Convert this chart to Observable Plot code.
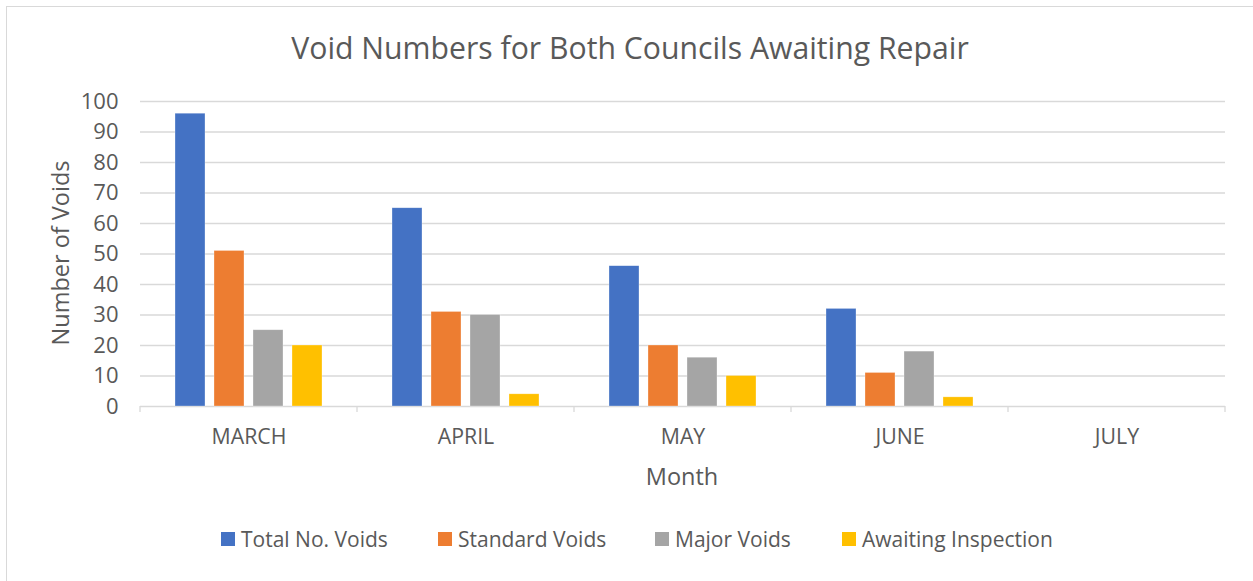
<!DOCTYPE html>
<html>
<head>
<meta charset="utf-8">
<script src="https://cdn.jsdelivr.net/npm/d3@7"></script>
<script src="https://cdn.jsdelivr.net/npm/@observablehq/plot@0.6"></script>
<style>
  html, body { margin: 0; padding: 0; background: #fff; }
  body { width: 1253px; height: 581px; position: relative; overflow: hidden; font-family: "Open Sans", Lato, sans-serif; color: #595959; }
  #frame { position: absolute; left: 6px; top: 6px; width: 1400px; height: 700px; border-left: 1.5px solid #d9d9d9; border-top: 1.5px solid #d9d9d9; }
  #title { position: absolute; left: 0; width: 1260px; top: 30px; text-align: center; font-size: 30.2px; line-height: 36px; }
  #ytitle { position: absolute; left: 60px; top: 253px; transform: translate(-50%, -50%) rotate(-90deg); font-size: 23.5px; line-height: 28px; white-space: nowrap; }
  #xtitle { position: absolute; left: 0; width: 1364px; top: 462px; text-align: center; font-size: 23.5px; line-height: 28px; }
  #chart { position: absolute; left: 0; top: 80px; }
  #legend { position: absolute; top: 525px; left: 0; width: 1253px; height: 28px; }
  .item { position: absolute; top: 0; display: flex; align-items: center; font-size: 21px; line-height: 28px; white-space: nowrap; }
  .sw { width: 14px; height: 14px; margin-right: 6px; }
</style>
</head>
<body>
<div id="frame"></div>
<div id="title">Void Numbers for Both Councils Awaiting Repair</div>
<div id="ytitle">Number of Voids</div>
<div id="xtitle">Month</div>
<div id="chart"></div>
<div id="legend"></div>
<script>
const months = ["MARCH", "APRIL", "MAY", "JUNE", "JULY"];
const seriesNames = ["Total No. Voids", "Standard Voids", "Major Voids", "Awaiting Inspection"];
const seriesColors = ["#4472C4", "#ED7D31", "#A5A5A5", "#FFC000"];
const totalVoids = [96, 65, 46, 32, 0];
const standardVoids = [51, 31, 20, 11, 0];
const majorVoids = [25, 30, 16, 18, 0];
const awaitingInspection = [20, 4, 10, 3, 0];
const yTicks = [0, 10, 20, 30, 40, 50, 60, 70, 80, 90, 100];

const seriesValues = [totalVoids, standardVoids, majorVoids, awaitingInspection];
const data = [];
months.forEach((m, i) => {
  seriesNames.forEach((s, j) => {
    data.push({month: m, series: s, value: seriesValues[j][i]});
  });
});

const plot = Plot.plot({
  width: 1253,
  height: 420,
  marginTop: 21,
  marginBottom: 94,
  marginLeft: 140,
  marginRight: 28,
  style: {fontFamily: "'Open Sans', Lato, sans-serif", fontSize: "21px", color: "#595959", background: "transparent", overflow: "visible"},
  fx: {domain: months, padding: 0, label: null},
  x: {domain: seriesNames, paddingInner: 0.24, paddingOuter: 0.867, axis: null},
  y: {domain: [0, 100], label: null},
  color: {domain: seriesNames, range: seriesColors},
  marks: [
    Plot.ruleY(yTicks, {stroke: "#d9d9d9", strokeWidth: 1.3, strokeOpacity: 1}),
    Plot.barY(data, {fx: "month", x: "series", y: "value", fill: "series", stroke: "white", strokeWidth: 0.6, strokeOpacity: 0.5}),
    Plot.axisY(yTicks, {tickSize: 0, tickPadding: 22, label: null, fill: "#595959", fontSize: 22}),
    Plot.axisFx({anchor: "bottom", tickSize: 0, tickPadding: 22, label: null, fill: "#595959", fontSize: 21.3})
  ]
});
document.getElementById("chart").appendChild(plot);

// boundary ticks between month bands, placed from the fx scale
const fx = plot.scale("fx");
const yS = plot.scale("y");
const svg = d3.select(plot);
const y0 = yS.apply(0);
const bounds = months.map(m => fx.apply(m)).concat([fx.apply(months[months.length - 1]) + fx.step]);
svg.append("g").selectAll("line").data(bounds).join("line")
  .attr("x1", d => d).attr("x2", d => d)
  .attr("y1", y0).attr("y2", y0 + 6)
  .attr("stroke", "#d9d9d9").attr("stroke-width", 1.3);

// legend
const legendX = [221, 438, 655, 842];
const legend = document.getElementById("legend");
seriesNames.forEach((s, i) => {
  const it = document.createElement("div");
  it.className = "item";
  it.style.left = legendX[i] + "px";
  it.innerHTML = `<span class="sw" style="background:${seriesColors[i]}"></span><span>${s}</span>`;
  legend.appendChild(it);
});
</script>
</body>
</html>
